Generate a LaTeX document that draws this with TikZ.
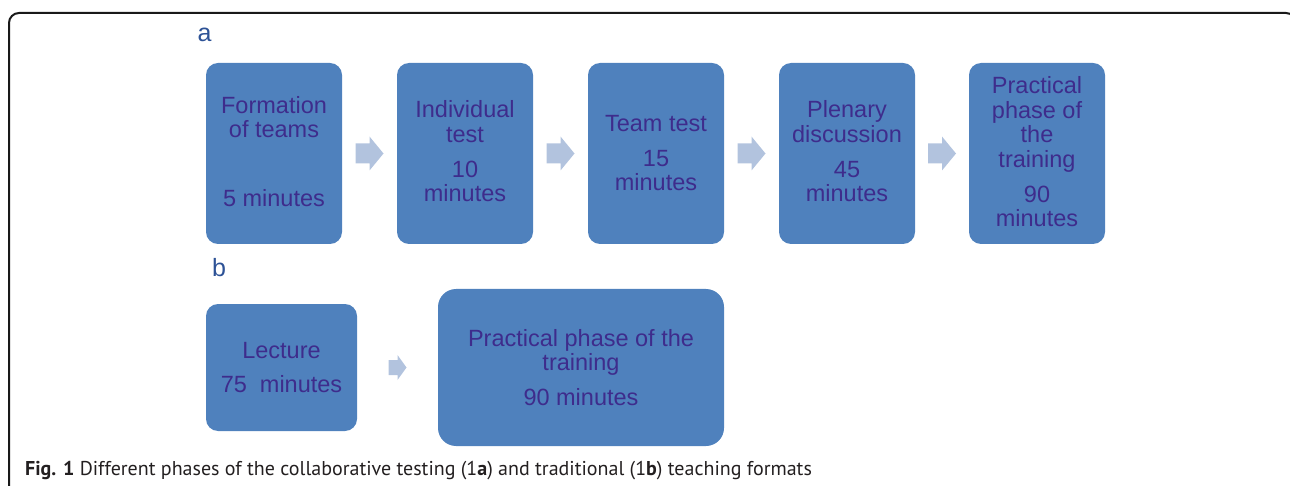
\documentclass[tikz,border=0pt]{standalone}
\usepackage{fontspec}
\usetikzlibrary{calc}
\setmainfont{Liberation Sans}
\newfontfamily\capfont{PT Sans}
\definecolor{boxc}{RGB}{79,129,189}
\definecolor{arrowc}{RGB}{178,195,222}
\definecolor{textc}{RGB}{62,44,140}
\definecolor{labc}{RGB}{45,82,150}
\definecolor{capc}{RGB}{35,31,32}
\tikzset{
  stepbox/.style={rectangle, rounded corners=12pt, fill=boxc, draw=none, minimum width=136pt, minimum height=181pt, inner sep=0pt},
  txt/.style={anchor=base, inner sep=0pt, text=textc, font=\fontsize{23.5}{25}\selectfont},
  lab/.style={anchor=base, inner sep=0pt, text=labc, font=\fontsize{25}{27}\selectfont},
  bigarrow/.pic={\fill[arrowc] (-14,-10) -- (0,-10) -- (0,-17) -- (14,0) -- (0,17) -- (0,10) -- (-14,10) -- cycle;},
  smallarrow/.pic={\fill[arrowc] (-9,-7.5) -- (0,-7.5) -- (0,-12.5) -- (9,0) -- (0,12.5) -- (0,7.5) -- (-9,7.5) -- cycle;}
}
\begin{document}
\begin{tikzpicture}[x=1pt,y=-1pt]
\useasboundingbox (0,0) rectangle (1290,486);
\clip (0,0) rectangle (1290,486);
\draw[line width=2pt, rounded corners=10pt, color=black!90] (9,13) rectangle (1296,520);

\node[lab] (la) at (204.5,42) {a};
\node[lab] (lb) at (219,277) {b};

% row a boxes
\node[stepbox] (box1) at (274,153.5) {};
\node[stepbox] (box2) at (465,153.5) {};
\node[stepbox] (box3) at (656,153.5) {};
\node[stepbox] (box4) at (847,153.5) {};
\node[stepbox] (box5) at (1037,153.5) {};

\path ($(box1.east)!0.5!(box2.west)$) pic {bigarrow};
\path ($(box2.east)!0.5!(box3.west)$) pic {bigarrow};
\path ($(box3.east)!0.5!(box4.west)$) pic {bigarrow};
\path ($(box4.east)!0.5!(box5.west)$) pic {bigarrow};

\node[txt] (t1a) at (274,114) {Formation};
\node[txt] (t1b) at (274,138) {of teams};
\node[txt] (t1c) at (274,207) {5 minutes};

\node[txt] (t2a) at (465,118) {Individual};
\node[txt] (t2b) at (465,143) {test};
\node[txt] (t2c) at (465,178) {10};
\node[txt] (t2d) at (465,202) {minutes};

\node[txt] (t3a) at (656,132) {Team test};
\node[txt] (t3b) at (656,167) {15};
\node[txt] (t3c) at (656,191) {minutes};

\node[txt] (t4a) at (847,118) {Plenary};
\node[txt] (t4b) at (847,143) {discussion};
\node[txt] (t4c) at (847,178) {45};
\node[txt] (t4d) at (847,202) {minutes};

\node[txt] (t5a) at (1037,94) {Practical};
\node[txt] (t5b) at (1037,118.5) {phase of};
\node[txt] (t5c) at (1037,143) {the};
\node[txt] (t5d) at (1037,167.5) {training};
\node[txt] (t5e) at (1037,202.5) {90};
\node[txt] (t5f) at (1037,227) {minutes};

% row b
\node[stepbox, minimum width=151pt, minimum height=127pt] (bb1) at (281.5,367.5) {};
\node[stepbox, rounded corners=18pt, minimum width=286pt, minimum height=157pt] (bb2) at (581,367.5) {};
\path ($(bb1.east)!0.5!(bb2.west)$) pic {smallarrow};

\node[txt] (u1a) at (281.5,358) {Lecture};
\node[txt] (u1b) at (281.5,392) {75\ \ minutes};
\node[txt] (u2a) at (581,346) {Practical phase of the};
\node[txt] (u2b) at (581,370) {training};
\node[txt] (u2c) at (581,405) {90 minutes};

\node[anchor=base west, inner sep=0pt, text=capc, font=\capfont\fontsize{20}{22}\selectfont] (cap) at (25,475)
  {\textbf{Fig. 1} Different phases of the collaborative testing (1\textbf{a}) and traditional (1\textbf{b}) teaching formats};
\end{tikzpicture}
\end{document}
